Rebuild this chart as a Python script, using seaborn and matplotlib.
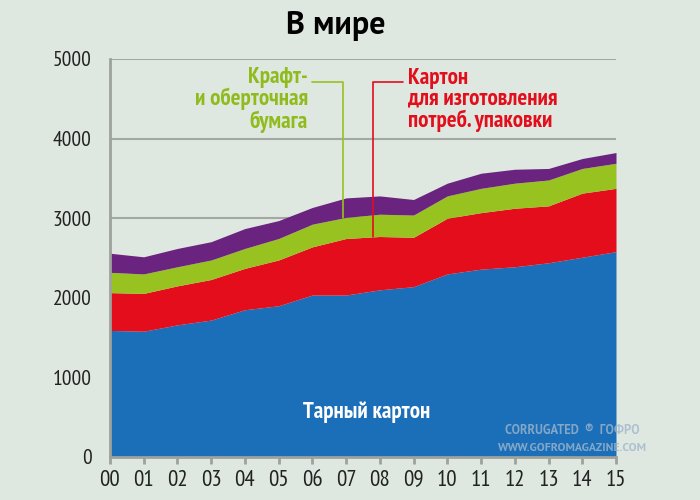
import numpy as np
import matplotlib.pyplot as plt
from matplotlib import font_manager
import seaborn as sns

# Данные (тыс. т), слои снизу вверх
years = ['00', '01', '02', '03', '04', '05', '06', '07',
         '08', '09', '10', '11', '12', '13', '14', '15']
tarny = [1590, 1580, 1660, 1720, 1850, 1900, 2035, 2035,
         2100, 2140, 2300, 2360, 2390, 2440, 2510, 2580]
karton_potreb = [475, 475, 490, 510, 520, 575, 605, 710,
                 670, 620, 700, 710, 735, 715, 805, 795]
kraft = [255, 245, 240, 245, 250, 270, 285, 265,
         280, 280, 280, 305, 315, 325, 310, 315]
prochee = [240, 215, 230, 230, 250, 225, 210, 245,
           230, 195, 160, 190, 175, 145, 125, 135]

colors = ['#1b6fb8', '#e30d1c', '#98c21f', '#6a237f']
bg = '#dfe8e0'

sns.set_theme(style='white')
names = set(f.name for f in font_manager.fontManager.ttflist)


def first_font(cands):
    for c in cands:
        if c in names:
            return c
    return 'DejaVu Sans'


narrow = first_font(['PT Sans Narrow', 'Roboto Condensed', 'Fira Sans Condensed',
                     'Open Sans Condensed', 'Liberation Sans Narrow', 'Roboto'])
wide = first_font(['PT Sans', 'Open Sans', 'Liberation Sans'])
plt.rcParams['font.family'] = [narrow, 'DejaVu Sans']

fig = plt.figure(figsize=(7, 5), dpi=100, facecolor=bg)
ax = fig.add_axes([0.157, 0.086, 0.723, 0.796])
ax.set_facecolor(bg)

x = np.arange(len(years))
ax.stackplot(x, tarny, karton_potreb, kraft, prochee, colors=colors,
             linewidth=0, zorder=2)

ax.set_xlim(0, 15)
ax.set_ylim(0, 5000)
ax.set_xticks(x)
ax.set_xticklabels(years)
ax.set_yticks([0, 1000, 2000, 3000, 4000, 5000])
for v in [3000, 4000, 5000]:
    ax.axhline(v, color='#a3a8a3', lw=1.5, zorder=1)

sns.despine(ax=ax)
for s in ['left', 'bottom']:
    ax.spines[s].set_color('#9da29d')
    ax.spines[s].set_linewidth(2)
ax.tick_params(axis='x', length=5, width=2, color='#9da29d', labelsize=16.5,
               labelcolor='#222222', pad=4, bottom=True)
ax.tick_params(axis='y', length=0, labelsize=15.5, labelcolor='#222222', pad=13)

fig.text(0.48, 0.948, 'В мире', ha='center', va='center', fontsize=23,
         fontweight='bold', color='black', family=[wide, 'DejaVu Sans'])

# Подписи слоёв
ax.text(308/700, 0.80, 'Крафт-\nи оберточная\nбумага', transform=fig.transFigure,
        ha='right', va='center', fontsize=16.5, fontweight='bold', color='#8fbb1d',
        linespacing=1.0)
ax.plot([312/700, 343/700, 343/700], [1-82/500, 1-82/500, 1-218/500],
        transform=fig.transFigure, color='#98c21f', lw=1.2, zorder=3)

ax.text(408/700, 0.80, 'Картон\nдля изготовления\nпотреб. упаковки',
        transform=fig.transFigure, ha='left', va='center', fontsize=16.5,
        fontweight='bold', color='#e30d1c', linespacing=1.0)
ax.plot([403/700, 373/700, 373/700], [1-82/500, 1-82/500, 1-237/500],
        transform=fig.transFigure, color='#e30d1c', lw=1.2, zorder=3)

ax.text(7.6, 560, 'Тарный картон', ha='center', va='center', fontsize=16.5,
        fontweight='bold', color='white', zorder=4)

# Водяной знак
fig.text(572/700, 1-431/500, 'CORRUGATED  ®  ГОФРО', ha='center', va='center',
         fontsize=9, fontweight='bold', color='#9fb6cc', alpha=0.8,
         family=[wide, 'DejaVu Sans'])
fig.text(572/700, 1-448/500, 'WWW.GOFROMAGAZINE.COM', ha='center', va='center',
         fontsize=8.5, fontweight='bold', color='#9fb6cc', alpha=0.8,
         family=[wide, 'DejaVu Sans'])

fig.savefig('out.png', dpi=100, facecolor=bg)
